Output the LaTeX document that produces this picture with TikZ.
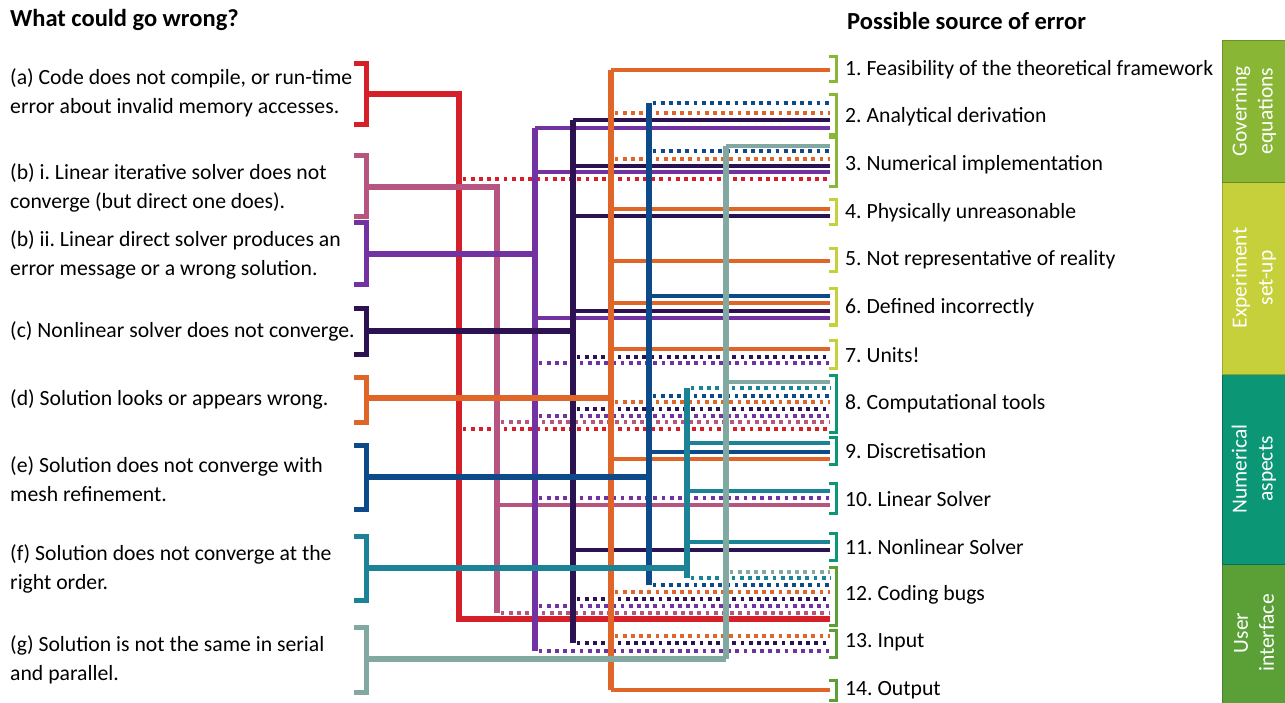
\documentclass[tikz,border=0pt]{standalone}
\usepackage{fontspec}
\setmainfont{Carlito}
\definecolor{cA}{HTML}{D52029}
\definecolor{cBi}{HTML}{B6557F}
\definecolor{cBii}{HTML}{7232A2}
\definecolor{cC}{HTML}{2C1250}
\definecolor{cD}{HTML}{E06528}
\definecolor{cE}{HTML}{0C4A8A}
\definecolor{cF}{HTML}{1B8395}
\definecolor{cG}{HTML}{82A8A2}
\definecolor{gGov}{HTML}{89B735}
\definecolor{gExp}{HTML}{C6D03B}
\definecolor{gNum}{HTML}{0B9675}
\definecolor{gUI}{HTML}{5AA036}
\newcommand\solidto[3]{\foreach \yy in {#3} {\draw[branch,#1] (#2,\yy) -- (830,\yy);}}
\newcommand\dotto[3]{\foreach \yy in {#3} {\draw[dotline,#1] (#2+3.5,\yy) -- (830,\yy);}}
\begin{document}
\frenchspacing
\begin{tikzpicture}[x=1pt,y=-1pt,
  trunk/.style={line width=5.5pt,line join=miter},
  branch/.style={line width=4pt},
  dotline/.style={line width=3.6pt,dash pattern=on 3.8pt off 4.4pt},
  lbrack/.style={line width=5pt,line join=miter},
  rbrack/.style={line width=3pt,line join=miter},
  txt/.style={font=\fontsize{21.7}{29}\selectfont,inner sep=0pt,anchor=west,align=left},
  head/.style={txt,font=\fontsize{24.5}{29}\selectfont\bfseries},
  side/.style={font=\fontsize{21.5}{26}\selectfont,text=white,rotate=90,align=center,inner sep=0pt}]
\useasboundingbox (0,0) rectangle (1285,703);

% headers
\node[head] (h1) at (10,20) {What could go wrong?};
\node[head] (h2) at (847,21) {Possible source of error};

% left texts
\node[txt] (ta) at (10,93) {(a) Code does not compile, or run-time\\error about invalid memory accesses.};
\node[txt] (tbi) at (10,188) {(b) i. Linear iterative solver does not\\converge (but direct one does).};
\node[txt] (tbii) at (10,255) {(b) ii. Linear direct solver produces an\\error message or a wrong solution.};
\node[txt] (tc) at (10,331) {(c) Nonlinear solver does not converge.};
\node[txt] (td) at (10,399) {(d) Solution looks or appears wrong.};
\node[txt] (te) at (10,479) {(e) Solution does not converge with\\mesh refinement.};
\node[txt] (tf) at (10,569) {(f) Solution does not converge at the\\right order.};
\node[txt] (tg) at (10,660) {(g) Solution is not the same in serial\\and parallel.};

% left brackets
\foreach \t/\b/\c in {64/125/cA,156/217/cBi,223/285/cBii,309/354/cC,377/422/cD,445/509/cE,536/600/cF,627/692/cG}
  {\draw[lbrack,\c] (354,\t) -- (366,\t) -- (366,\b) -- (354,\b);}

% (a) red
\draw[trunk,cA] (366,94) -- (459,94) -- (459,619) -- (830,619);
\dotto{cA}{459}{179,429}
% (b) i pink
\draw[trunk,cBi] (366,187) -- (497,187) -- (497,613);
\dotto{cBi}{497}{422,613}
\solidto{cBi}{497}{505}
% (b) ii purple
\draw[trunk,cBii] (366,254) -- (535,254);
\draw[trunk,cBii] (535,128) -- (535,651);
\solidto{cBii}{535}{128,172,318}
\dotto{cBii}{535}{363,416,498,606,651}
% (c) dark purple
\draw[trunk,cC] (366,331) -- (573,331);
\draw[trunk,cC] (573,120) -- (573,643);
\solidto{cC}{573}{120,166,216,311,550}
\dotto{cC}{573}{357,409,599,643}
% (d) orange
\draw[trunk,cD] (366,398) -- (611,398);
\draw[trunk,cD] (611,70) -- (611,690);
\solidto{cD}{611}{70,209,261,303,349,459,690}
\dotto{cD}{611}{113,159,402,592,636}
% (e) blue
\draw[trunk,cE] (366,477) -- (649,477);
\draw[trunk,cE] (649,103) -- (649,585);
\solidto{cE}{649}{296,452}
\dotto{cE}{649}{103,151,396,585}
% (f) teal
\draw[trunk,cF] (366,568) -- (687,568);
\draw[trunk,cF] (687,388) -- (687,578);
\solidto{cF}{687}{443,491,542}
\dotto{cF}{687}{388,578}
% (g) grey
\draw[trunk,cG] (366,659) -- (726,659);
\draw[trunk,cG] (726,146) -- (726,659);
\solidto{cG}{726}{146,382}
\dotto{cG}{726}{572}

% right brackets
\foreach \t/\b/\c in {57/82/gGov,95/135/gGov,138/187/gGov,200/225/gExp,249/272/gExp,289/325/gExp,340/368/gExp,375/432/gNum,437/464/gNum,483/513/gNum,533/560/gNum,567/625/gUI,630/657/gUI,680/700/gUI}
  {\draw[rbrack,\c] (829,\t) -- (836,\t) -- (836,\b) -- (829,\b);}

% right labels
\node[txt] (l1) at (845,70) {1. Feasibility of the theoretical framework};
\node[txt] (l2) at (845,117) {2. Analytical derivation};
\node[txt] (l3) at (845,165) {3. Numerical implementation};
\node[txt] (l4) at (845,213) {4. Physically unreasonable};
\node[txt] (l5) at (845,260) {5. Not representative of reality};
\node[txt] (l6) at (845,308) {6. Defined incorrectly};
\node[txt] (l7) at (845,355) {7. Units!};
\node[txt] (l8) at (845,404) {8. Computational tools};
\node[txt] (l9) at (845,451) {9. Discretisation};
\node[txt] (l10) at (845,499) {10. Linear Solver};
\node[txt] (l11) at (845,547) {11. Nonlinear Solver};
\node[txt] (l12) at (845,595) {12. Coding bugs};
\node[txt] (l13) at (845,642) {13. Input};
\node[txt] (l14) at (845,690) {14. Output};

% side category boxes
\fill[gGov] (1222,40) rectangle (1285,183);
\fill[gExp] (1222,183) rectangle (1285,374);
\fill[gNum] (1222,374) rectangle (1285,564);
\fill[gUI] (1222,564) rectangle (1285,703);
\draw[gGov!80!black,line width=0.8pt] (1285,40) -- (1222,40) -- (1222,183);
\draw[gExp!80!black,line width=0.8pt] (1222,183) -- (1222,374);
\draw[gNum!70!black,line width=0.8pt] (1222,374) -- (1222,564);
\draw[gUI!80!black,line width=0.8pt] (1222,564) -- (1222,703);
\draw[gGov!75!black,line width=1pt] (1222,183) -- (1285,183);
\draw[gExp!75!black,line width=1pt] (1222,374) -- (1285,374);
\draw[gNum!75!black,line width=1pt] (1222,564) -- (1285,564);
\node[side] (s1) at (1254,111) {Governing\\equations};
\node[side] (s2) at (1254,278) {Experiment\\set-up};
\node[side] (s3) at (1254,469) {Numerical\\aspects};
\node[side] (s4) at (1254,633) {User\\interface};
\end{tikzpicture}
\end{document}
